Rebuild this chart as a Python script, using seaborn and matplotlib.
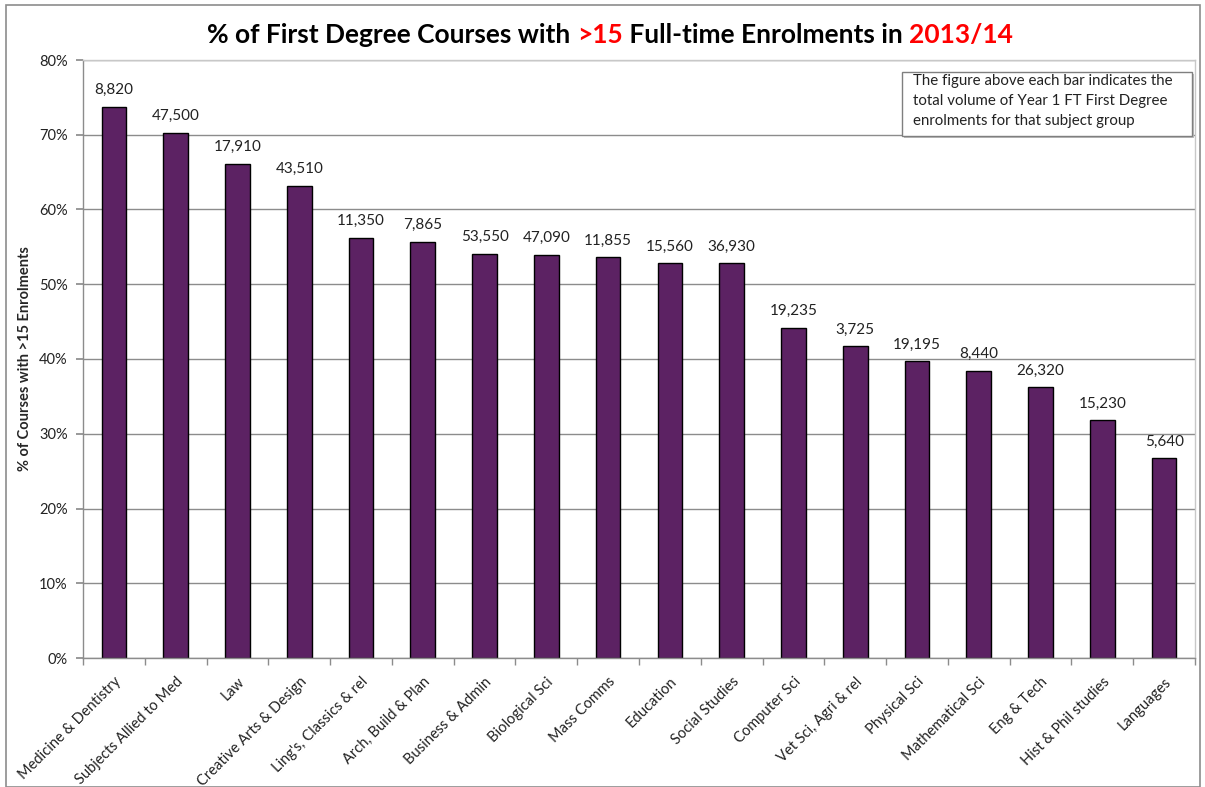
import numpy as np
import pandas as pd
import matplotlib
matplotlib.use('Agg')
import matplotlib.pyplot as plt
import seaborn as sns
from matplotlib.patches import Rectangle

# 数据
subjects = ['Medicine & Dentistry', 'Subjects Allied to Med', 'Law', 'Creative Arts & Design',
            "Ling's, Classics & rel", 'Arch, Build & Plan', 'Business & Admin', 'Biological Sci',
            'Mass Comms', 'Education', 'Social Studies', 'Computer Sci', 'Vet Sci, Agri & rel',
            'Physical Sci', 'Mathematical Sci', 'Eng & Tech', 'Hist & Phil studies', 'Languages']
pct_over15 = [73.7, 70.3, 66.1, 63.2, 56.2, 55.7, 54.1, 53.9, 53.6, 52.8, 52.8,
              44.2, 41.7, 39.7, 38.4, 36.2, 31.8, 26.7]
volumes = [8820, 47500, 17910, 43510, 11350, 7865, 53550, 47090, 11855, 15560, 36930,
           19235, 3725, 19195, 8440, 26320, 15230, 5640]
y_ticks = [0, 10, 20, 30, 40, 50, 60, 70, 80]

df = pd.DataFrame({'subject': subjects, 'pct': pct_over15})

sns.set_theme(style='white')
plt.rcParams['font.family'] = ['Lato', 'DejaVu Sans']

fig = plt.figure(figsize=(12.05, 7.87), dpi=100)
ax = fig.add_axes([83 / 1205, 1 - 658 / 787, (1195 - 83) / 1205, (658 - 60) / 787])

sns.barplot(data=df, x='subject', y='pct', color='#5C2263', edgecolor='black',
            linewidth=1.0, width=0.4, saturation=1, ax=ax)

ax.bar_label(ax.containers[0], labels=[f'{v:,}' for v in volumes], padding=7,
             fontsize=11, color='#222222')

# 坐标轴
ax.set_ylim(0, 80)
ax.set_xlim(-0.5, len(subjects) - 0.5)
ax.set_yticks(y_ticks)
ax.set_yticklabels([f'{t}%' for t in y_ticks], fontsize=10.5, color='#222222')
ax.yaxis.grid(True, color='#8c8c8c', linewidth=1.0)
ax.set_axisbelow(True)
ax.tick_params(axis='y', which='major', length=5, color='#8c8c8c', left=True, pad=6)

ax.set_xticks(range(len(subjects)))
ax.set_xticklabels(subjects, rotation=45, ha='right', rotation_mode='anchor',
                   fontsize=10.5, color='#222222')
ax.tick_params(axis='x', which='major', length=0, pad=12)
ax.set_xticks(np.arange(-0.5, len(subjects), 1), minor=True)
ax.tick_params(axis='x', which='minor', length=5, color='#8c8c8c', bottom=True)

ax.set_xlabel('')
ax.set_ylabel('% of Courses with >15 Enrolments', fontsize=10.5, fontweight='bold')
ax.yaxis.set_label_coords((32 - 83) / 1112, 0.5)

for side in ['left', 'bottom']:
    ax.spines[side].set_color('#8c8c8c')
    ax.spines[side].set_linewidth(1.0)
for side in ['top', 'right']:
    ax.spines[side].set_color('#c8c8c8')
    ax.spines[side].set_linewidth(1.0)

# 标题 (分段着色)
parts = [('% of First Degree Courses with ', 'black'), ('>15', '#ff0000'),
         (' Full-time Enrolments in ', 'black'), ('2013/14', '#ff0000')]
renderer = fig.canvas.get_renderer()
texts = []
for s, c in parts:
    t = fig.text(0, 1 - 35 / 787, s, color=c, fontsize=19, fontweight='bold',
                 va='center', ha='left')
    texts.append(t)
widths = [t.get_window_extent(renderer).width for t in texts]
start = 610 - sum(widths) / 2
for t, w in zip(texts, widths):
    t.set_x(start / 1205)
    start += w

# 说明框
fig.patches.append(Rectangle((904 / 1205, 1 - 138 / 787), 290 / 1205, 64 / 787,
                             transform=fig.transFigure, facecolor='#bdbdbd',
                             edgecolor='none', zorder=5))
fig.patches.append(Rectangle((902 / 1205, 1 - 136 / 787), 290 / 1205, 64 / 787,
                             transform=fig.transFigure, facecolor='white',
                             edgecolor='#7f7f7f', linewidth=1.0, zorder=6))
fig.text(913 / 1205, 1 - 101 / 787,
         'The figure above each bar indicates the\ntotal volume of Year 1 FT First Degree\n'
         'enrolments for that subject group',
         fontsize=10.8, va='center', ha='left', color='#222222', linespacing=1.5, zorder=7)

# 外框
fig.patches.append(Rectangle((6 / 1205, 0), 1194 / 1205, 1 - 5 / 787,
                             transform=fig.transFigure, facecolor='none',
                             edgecolor='#8c8c8c', linewidth=1.2))

fig.savefig('out.png', dpi=100)
